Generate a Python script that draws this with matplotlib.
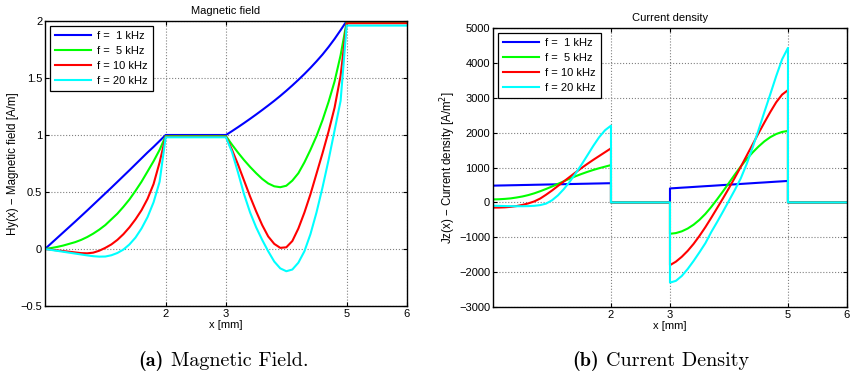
import numpy as np
import matplotlib
matplotlib.use('Agg')
import matplotlib.pyplot as plt

plt.rcParams['font.family'] = ['Liberation Sans', 'DejaVu Sans']

# sample positions inside the two conductors [mm]
x_cond1 = np.linspace(0, 2, 21)
x_cond2 = np.linspace(3, 5, 21)
x_end = 6.0

labels = ['f =  1 kHz', 'f =  5 kHz', 'f = 10 kHz', 'f = 20 kHz']
colors = ['#0000ff', '#00ff00', '#ff0000', '#00ffff']

# magnetic field Hy [A/m], conductor 1 (x = 0..2)
h1_1k = [0, .048, .096, .144, .192, .240, .289, .338, .388, .438, .488,
         .538, .589, .640, .691, .743, .795, .847, .896, .948, 1.0]
h1_5k = [0, .008, .018, .03, .045, .06, .08, .105, .135, .17, .21,
         .26, .31, .37, .435, .51, .59, .68, .77, .87, .99]
h1_10k = [0, -.006, -.012, -.018, -.024, -.03, -.036, -.038, -.032, -.015, .01,
          .04, .08, .13, .19, .26, .34, .44, .57, .76, .985]
h1_20k = [0, -.008, -.016, -.024, -.032, -.04, -.048, -.056, -.063, -.067, -.066,
          -.055, -.035, -.005, .04, .10, .18, .28, .41, .59, .98]

# magnetic field Hy [A/m], conductor 2 (x = 3..5)
h2_1k = [1.0, 1.034, 1.069, 1.105, 1.142, 1.18, 1.219, 1.259, 1.30, 1.343, 1.388,
         1.435, 1.484, 1.535, 1.589, 1.646, 1.706, 1.772, 1.843, 1.92, 2.0]
h2_5k = [.99, .915, .845, .78, .72, .665, .615, .575, .55, .542, .555,
         .60, .665, .76, .87, .99, 1.13, 1.29, 1.47, 1.70, 1.99]
h2_10k = [.985, .87, .74, .60, .46, .33, .21, .11, .045, .01, .015,
          .07, .18, .32, .48, .66, .84, 1.03, 1.24, 1.52, 1.98]
h2_20k = [.98, .85, .67, .48, .32, .19, .08, -.02, -.11, -.17, -.195,
          -.18, -.12, -.02, .13, .32, .54, .78, 1.04, 1.30, 1.96]

# current density Jz [A/m^2], conductor 1 (x = 0..2)
j1_1k = [480, 484, 487, 491, 494, 498, 501, 505, 508, 512, 515,
         519, 522, 526, 529, 533, 536, 540, 543, 547, 550]
j1_5k = [85, 90, 100, 115, 140, 170, 210, 260, 320, 385, 455,
         530, 605, 680, 750, 815, 875, 930, 980, 1025, 1070]
j1_10k = [-150, -148, -142, -128, -105, -72, -28, 28, 110, 220, 340,
          470, 600, 730, 860, 985, 1105, 1220, 1330, 1440, 1550]
j1_20k = [-95, -100, -105, -108, -110, -110, -107, -98, -78, -35, 60,
          200, 380, 590, 830, 1080, 1350, 1620, 1870, 2070, 2200]

# current density Jz [A/m^2], conductor 2 (x = 3..5)
j2_1k = [400, 411, 422, 432, 443, 454, 465, 475, 486, 497, 508,
         518, 529, 540, 551, 562, 572, 583, 594, 604, 615]
j2_5k = [-900, -880, -830, -750, -640, -500, -330, -130, 90, 320, 560,
         800, 1030, 1240, 1430, 1600, 1750, 1870, 1960, 2020, 2050]
j2_10k = [-1800, -1700, -1560, -1390, -1190, -960, -710, -440, -160, 120, 410,
          710, 1020, 1340, 1660, 1980, 2290, 2590, 2870, 3090, 3220]
j2_20k = [-2300, -2250, -2110, -1910, -1680, -1430, -1170, -850, -560, -260, 50,
          360, 690, 1100, 1570, 2070, 2590, 3100, 3620, 4100, 4430]

H1 = [h1_1k, h1_5k, h1_10k, h1_20k]
H2 = [h2_1k, h2_5k, h2_10k, h2_20k]
J1 = [j1_1k, j1_5k, j1_10k, j1_20k]
J2 = [j2_1k, j2_5k, j2_10k, j2_20k]

xticks = [2, 3, 5, 6]
h_ticks = [-0.5, 0, 0.5, 1, 1.5, 2]
h_ticklabels = ['\u22120.5', '0', '0.5', '1', '1.5', '2']
j_ticks = [-3000, -2000, -1000, 0, 1000, 2000, 3000, 4000, 5000]
j_ticklabels = [str(t).replace('-', '\u2212') for t in j_ticks]


def style_axes(ax):
    ax.set_xlim(0, 6)
    ax.set_xticks(xticks)
    ax.set_xticklabels([str(t) for t in xticks])
    ax.grid(True, linestyle=':', color='#808080', linewidth=0.8)
    ax.tick_params(direction='in', top=True, right=True, labelsize=8,
                   length=3, width=0.8, pad=2)
    for sp in ax.spines.values():
        sp.set_linewidth(1.0)
    ax.set_xlabel('x [mm]', fontsize=8, labelpad=1)


def add_legend(ax):
    leg = ax.legend(loc='upper left', fontsize=8, fancybox=False, edgecolor='black',
                    framealpha=1, handlelength=3.2, labelspacing=0.45,
                    borderaxespad=0.45, borderpad=0.45, handletextpad=0.6)
    leg.get_frame().set_linewidth(0.9)


fig = plt.figure(figsize=(8.55, 3.75), dpi=100)
ax1 = fig.add_axes([0.0526, 0.184, 0.4234, 0.760])
ax2 = fig.add_axes([0.5766, 0.1813, 0.414, 0.744])

# left: magnetic field
for h1, h2, c, lab in zip(H1, H2, colors, labels):
    x = np.concatenate([x_cond1, x_cond2, [x_end]])
    y = np.concatenate([h1, h2, [h2[-1]]])
    ax1.plot(x, y, color=c, linewidth=1.5, label=lab)
style_axes(ax1)
ax1.set_ylim(-0.5, 2)
ax1.set_yticks(h_ticks)
ax1.set_yticklabels(h_ticklabels)
ax1.set_title('Magnetic field', fontsize=8, pad=5)
ax1.set_ylabel('Hy(x) \u2212 Magnetic field [A/m]', fontsize=8.3, labelpad=1)
add_legend(ax1)

# right: current density
for j1, j2, c, lab in zip(J1, J2, colors, labels):
    x = np.concatenate([x_cond1, [2, 3], x_cond2, [5, x_end]])
    y = np.concatenate([j1, [0, 0], j2, [0, 0]])
    ax2.plot(x, y, color=c, linewidth=1.5, label=lab)
style_axes(ax2)
ax2.set_ylim(-3000, 5000)
ax2.set_yticks(j_ticks)
ax2.set_yticklabels(j_ticklabels)
ax2.set_title('Current density', fontsize=8, pad=5)
ax2.set_ylabel('Jz(x) \u2212 Current density [A/m$^2$]', fontsize=8.3, labelpad=1)
add_legend(ax2)

# sub-captions (Computer Modern, as in the LaTeX document)
cap_y = 1 - 361 / 375
fig.text(164 / 855, cap_y, '(a)', ha='right', va='center',
         fontsize=14.5, family='cmb10')
fig.text(171 / 855, cap_y, 'Magnetic Field.', ha='left', va='center',
         fontsize=14.5, family='cmr10')
fig.text(599 / 855, cap_y, '(b)', ha='right', va='center',
         fontsize=14.5, family='cmb10')
fig.text(606 / 855, cap_y, 'Current Density', ha='left', va='center',
         fontsize=14.5, family='cmr10')

fig.savefig('out.png', dpi=100)
